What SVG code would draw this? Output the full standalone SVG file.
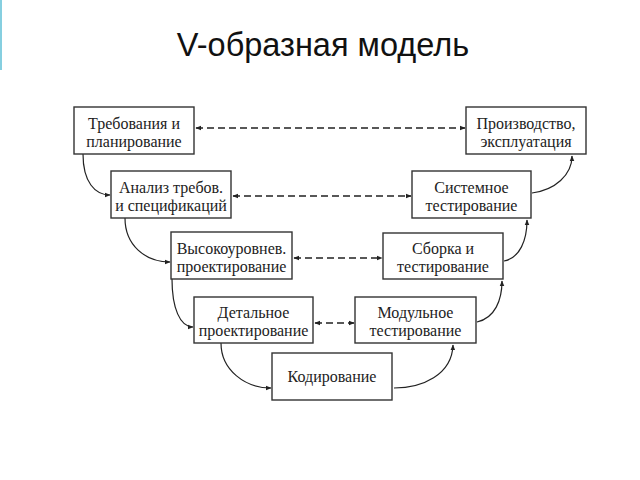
<svg xmlns="http://www.w3.org/2000/svg" width="640" height="480" viewBox="0 0 640 480">
<style>
.box{fill:#fff;stroke:#333;stroke-width:1.4}
.t{font-family:"Liberation Serif","Times New Roman",serif;font-size:16px;fill:#222;text-anchor:middle}
.title{font-family:"Liberation Sans",Arial,sans-serif;font-size:32.5px;fill:#111;text-anchor:middle}
.c{fill:none;stroke:#222;stroke-width:1.2;marker-end:url(#ah)}
.d{fill:none;stroke:#222;stroke-width:1.3;stroke-dasharray:7 4;marker-start:url(#ah);marker-end:url(#ah)}
</style>
<defs>
<marker id="ah" viewBox="0 0 10 10" refX="9" refY="5" markerWidth="6" markerHeight="6" markerUnits="userSpaceOnUse" orient="auto-start-reverse">
<path d="M0,1 L10,5 L0,9 z" fill="#222"/>
</marker>
</defs>
<rect x="0" y="0" width="640" height="480" fill="#fff"/>
<rect x="0" y="0" width="2" height="70" fill="#86cfe0"/>
<text class="title" x="323" y="56">V-образная модель</text>

<g id="connectors">
<path class="c" d="M83,154 C83,182 95,195 110,195"/>
<path class="c" d="M125,218 C125,245 145,262 170,262"/>
<path class="c" d="M172,279 C172,308 180,327 193,327"/>
<path class="c" d="M221,343 C221,370 245,388 271,388"/>
<path class="c" d="M394,388 C422,388 452,375 453,345"/>
<path class="c" d="M477,322 C495,318 502,300 502,281"/>
<path class="c" d="M504,261 C520,258 527,240 527,220"/>
<path class="c" d="M532,193 C555,190 572,175 572,156"/>
<path class="d" d="M196,128 L465,128"/>
<path class="d" d="M233,196 L411,196"/>
<path class="d" d="M294,258 L382,258"/>
<path class="d" d="M315,323 L354,323"/>
</g>

<g id="n1"><rect class="box" x="74" y="107" width="120" height="47"/>
<text class="t" x="134" y="129">Требования и</text><text class="t" x="134" y="147">планирование</text></g>
<g id="n2"><rect class="box" x="111" y="171" width="120" height="47"/>
<text class="t" x="171" y="193">Анализ требов.</text><text class="t" x="171" y="211">и спецификаций</text></g>
<g id="n3"><rect class="box" x="466" y="107" width="120" height="47"/>
<text class="t" x="526" y="129">Производство,</text><text class="t" x="526" y="147">эксплуатация</text></g>
<g id="n4"><rect class="box" x="412" y="171" width="119" height="47"/>
<text class="t" x="471.5" y="193">Системное</text><text class="t" x="471.5" y="211">тестирование</text></g>
<g id="n5"><rect class="box" x="171" y="232" width="121" height="47"/>
<text class="t" x="231.5" y="254">Высокоуровнев.</text><text class="t" x="231.5" y="272">проектирование</text></g>
<g id="n6"><rect class="box" x="383" y="233" width="120" height="46"/>
<text class="t" x="443" y="254">Сборка и</text><text class="t" x="443" y="272">тестирование</text></g>
<g id="n7"><rect class="box" x="194" y="297" width="119" height="46"/>
<text class="t" x="253.5" y="318">Детальное</text><text class="t" x="253.5" y="336">проектирование</text></g>
<g id="n8"><rect class="box" x="355" y="297" width="121" height="46"/>
<text class="t" x="415.5" y="318">Модульное</text><text class="t" x="415.5" y="336">тестирование</text></g>
<g id="n9"><rect class="box" x="272" y="353" width="120" height="47"/>
<text class="t" x="332" y="382">Кодирование</text></g>
</svg>
